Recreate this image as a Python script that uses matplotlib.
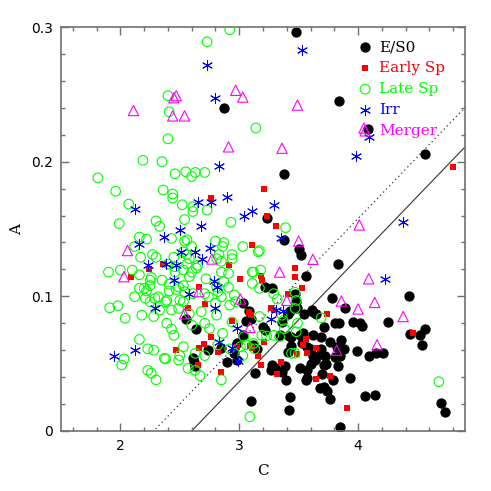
import matplotlib
matplotlib.use("Agg")
import matplotlib.pyplot as plt
from matplotlib.ticker import MultipleLocator

# E/S0 (black filled circles)
es0_c = [3.48, 2.87, 3.84, 4.08, 4.56, 3.38, 3.23, 3.38, 3.50, 3.52,
         3.83, 3.56, 3.22, 3.28, 3.47, 3.48, 3.78, 3.89, 4.43,
         3.03, 3.08, 3.10, 3.06, 2.55, 2.64,
         3.41, 3.43, 3.49, 3.36, 3.20, 3.22,
         3.545, 3.61, 3.65, 3.62, 3.71, 3.81, 3.84, 3.96, 4.02, 4.03, 4.255,
         4.56, 4.52, 4.54, 4.44,
         3.51, 3.54, 3.62, 3.69, 3.76, 3.86, 3.42, 3.44, 3.34,
         3.03, 2.98, 3.12, 3.15, 2.74, 2.85, 2.96,
         3.53, 3.44, 3.41, 3.57, 3.60, 3.69, 3.82, 3.88, 3.99, 4.09, 4.15, 4.21,
         3.72, 3.65, 3.64, 3.62, 3.81, 3.85,
         2.61, 2.62, 2.63, 2.90,
         3.28, 3.30, 3.27, 3.36, 3.51, 3.57, 3.60, 3.71, 3.73, 3.83,
         3.13, 3.385, 3.39, 3.56, 3.57, 3.79, 3.93, 3.70,
         3.71, 3.74, 3.68, 3.76, 4.06, 4.14,
         3.10, 3.43, 3.42, 3.85, 4.70, 4.73, 2.98]
es0_a = [0.296, 0.240, 0.245, 0.224, 0.206, 0.191, 0.158, 0.142, 0.135, 0.131,
         0.124, 0.115, 0.107, 0.106, 0.102, 0.096, 0.099, 0.091, 0.100,
         0.095, 0.089, 0.083, 0.082, 0.083, 0.0755,
         0.087, 0.089, 0.091, 0.081, 0.077, 0.075,
         0.087, 0.090, 0.087, 0.088, 0.077, 0.080, 0.080, 0.081, 0.080, 0.078, 0.081,
         0.076, 0.071, 0.064, 0.072,
         0.071, 0.0725, 0.071, 0.070, 0.066, 0.0676, 0.0705, 0.070, 0.071,
         0.071, 0.065, 0.064, 0.061, 0.060, 0.062, 0.058,
         0.065, 0.063, 0.059, 0.0626, 0.061, 0.061, 0.0626, 0.061, 0.0596, 0.056, 0.058, 0.0577,
         0.056, 0.055, 0.0527, 0.056, 0.055, 0.056,
         0.054, 0.051, 0.048, 0.051,
         0.049, 0.047, 0.045, 0.044, 0.0465, 0.045, 0.050, 0.049, 0.050, 0.048,
         0.043, 0.048, 0.038, 0.038, 0.039, 0.038, 0.039, 0.042,
         0.033, 0.030, 0.032, 0.024, 0.026, 0.027,
         0.022, 0.0255, 0.0156, 0.003, 0.021, 0.014, 0.053]

# Early Sp (red filled squares)
early_c = [4.80, 3.21, 3.23, 3.31, 3.11, 2.76, 2.24, 2.36, 2.09, 2.47,
           2.57, 2.66, 2.71, 2.91, 3.01, 2.94, 2.76, 2.70, 2.66, 2.82,
           2.98, 2.65, 2.85, 3.08, 3.09, 3.18, 3.19, 3.47, 3.53, 3.47,
           3.41, 3.10, 3.29, 3.16, 3.21, 3.35, 3.27, 3.74, 3.56, 3.54,
           3.57, 3.65, 3.49, 3.32, 3.65, 3.76, 3.91, 4.46, 3.18, 3.11]
early_a = [0.196, 0.180, 0.160, 0.152, 0.138, 0.173, 0.120, 0.124, 0.114, 0.060,
           0.091, 0.107, 0.094, 0.123, 0.1126, 0.082, 0.0696, 0.0646, 0.0614, 0.0589,
           0.0626, 0.049, 0.0436, 0.0886, 0.063, 0.115, 0.112, 0.1146, 0.1064, 0.121,
           0.102, 0.086, 0.0898, 0.056, 0.066, 0.051, 0.091, 0.0868, 0.068, 0.064,
           0.0577, 0.062, 0.057, 0.042, 0.0386, 0.041, 0.0168, 0.073, 0.049, 0.062]

# Late Sp (green open circles)
late_c = [2.92, 2.73, 2.40, 2.41, 2.40, 2.19, 2.35, 1.81, 2.46, 2.55,
          2.60, 2.63, 2.71, 2.36, 2.44, 2.44, 1.96, 2.07, 2.52, 2.61,
          2.61, 2.73, 2.54, 2.30, 2.33, 1.99, 2.93, 2.16, 2.22, 2.43,
          2.54, 2.80, 2.87, 2.12, 3.14, 3.39, 2.56, 2.86, 3.03, 3.17, 2.94,
          2.17, 2.27, 2.30, 2.45, 2.53, 2.56, 2.60, 2.83, 2.85, 2.56,
          2.53, 2.46, 2.40, 2.46, 2.60, 2.65, 2.85, 2.91, 2.87, 2.82,
          2.91, 2.74, 2.35, 2.25, 2.47, 2.53, 2.29, 2.39, 2.50, 2.80, 2.92,
          2.58, 2.81, 2.94, 2.64, 2.58, 2.72, 2.81, 3.11, 2.61, 2.71,
          2.85, 2.96, 2.97, 3.16, 3.12, 3.18, 3.17, 3.11, 3.29, 3.32, 3.47, 3.48,
          1.90, 2.00, 2.10, 2.16, 2.26, 2.25, 2.20, 2.16, 2.22, 2.12,
          2.21, 2.25, 2.32, 2.38, 2.41, 2.41, 2.49, 2.54, 2.53, 2.49,
          2.43, 1.91, 1.98, 2.04, 2.18, 2.28, 2.33, 2.39, 2.43, 2.45,
          2.16, 2.23, 2.28, 2.38, 2.50, 2.53, 2.03, 2.01, 2.23, 2.26,
          2.57, 2.49, 2.30, 2.37, 2.67, 2.85, 3.09,
          2.58, 2.68, 2.81, 2.94, 2.60, 2.71, 2.75, 2.86, 3.04, 3.19,
          3.34, 3.38, 3.48, 3.47, 3.36, 2.82, 2.92, 3.01, 3.06, 3.13,
          3.44, 2.63, 2.71, 2.63, 3.69, 3.37, 3.49, 3.17, 3.29, 3.12,
          3.47, 4.68, 3.23, 3.03]
late_a = [0.298, 0.289, 0.249, 0.237, 0.217, 0.201, 0.200, 0.188, 0.191, 0.1925,
          0.189, 0.192, 0.192, 0.179, 0.176, 0.173, 0.178, 0.1685, 0.168, 0.1665,
          0.163, 0.164, 0.157, 0.156, 0.152, 0.154, 0.155, 0.144, 0.1425, 0.143,
          0.141, 0.141, 0.140, 0.137, 0.225, 0.151, 0.142, 0.137, 0.137, 0.134, 0.131,
          0.129, 0.131, 0.129, 0.129, 0.133, 0.131, 0.137, 0.131, 0.126, 0.124,
          0.1195, 0.122, 0.124, 0.118, 0.118, 0.123, 0.118, 0.117, 0.111, 0.1035,
          0.1067, 0.0997, 0.112, 0.112, 0.105, 0.108, 0.0985, 0.097, 0.097, 0.095, 0.0935,
          0.128, 0.128, 0.128, 0.121, 0.1146, 0.113, 0.107, 0.118, 0.102, 0.102,
          0.0997, 0.101, 0.096, 0.133, 0.118, 0.1195, 0.106, 0.1096, 0.102, 0.098, 0.103, 0.097,
          0.118, 0.1195, 0.1195, 0.116, 0.114, 0.108, 0.106, 0.106, 0.104, 0.0997,
          0.0985, 0.096, 0.0997, 0.096, 0.104, 0.109, 0.107, 0.1035, 0.096, 0.091,
          0.0898, 0.0915, 0.093, 0.0837, 0.086, 0.085, 0.0898, 0.080, 0.0757, 0.071,
          0.068, 0.061, 0.060, 0.0535, 0.056, 0.0626, 0.0535, 0.049, 0.045, 0.043,
          0.0465, 0.0527, 0.038, 0.054, 0.041, 0.038, 0.0106,
          0.087, 0.0886, 0.086, 0.081, 0.0787, 0.080, 0.076, 0.0725, 0.070, 0.071,
          0.070, 0.076, 0.0737, 0.091, 0.086, 0.064, 0.061, 0.0626, 0.064, 0.061,
          0.0577, 0.0577, 0.056, 0.045, 0.084, 0.082, 0.080, 0.085, 0.071, 0.065,
          0.0577, 0.0366, 0.0705, 0.056]

# Irr (blue asterisks)
irr_c = [2.73, 2.80, 2.83, 2.90, 2.65, 2.76, 2.12, 3.04, 2.68, 2.50,
         2.37, 2.16, 3.53, 4.09, 3.98, 3.11, 3.29, 4.38, 3.35, 2.75,
         2.63, 2.51, 2.69, 2.23, 2.38, 2.47, 2.45, 2.79, 2.81, 2.58,
         2.29, 2.80, 2.12, 1.95, 2.98, 2.83, 2.94, 2.99, 3.27, 3.37,
         3.31, 4.23]
irr_a = [0.272, 0.247, 0.197, 0.174, 0.170, 0.170, 0.165, 0.160, 0.152, 0.149,
         0.144, 0.139, 0.283, 0.218, 0.204, 0.163, 0.168, 0.155, 0.143, 0.1356,
         0.133, 0.133, 0.128, 0.123, 0.124, 0.123, 0.112, 0.1115, 0.107, 0.1015,
         0.091, 0.091, 0.060, 0.056, 0.0767, 0.066, 0.062, 0.052, 0.083, 0.089,
         0.0898, 0.1126]

# Merger (magenta open triangles)
merger_c = [2.47, 2.45, 2.11, 2.44, 2.54, 2.97, 3.03, 2.91, 3.49, 4.05,
            3.36, 4.01, 3.50, 3.62, 3.34, 4.09, 3.86, 4.14, 4.00, 4.38,
            4.16, 3.82, 3.40, 3.09, 2.06, 2.03, 2.77, 2.66, 3.01, 2.54]
merger_a = [0.249, 0.2475, 0.238, 0.234, 0.234, 0.253, 0.248, 0.211, 0.242, 0.225,
            0.210, 0.153, 0.141, 0.1275, 0.118, 0.113, 0.0965, 0.0955, 0.0906, 0.085,
            0.064, 0.060, 0.097, 0.077, 0.134, 0.1146, 0.1277, 0.1035, 0.098, 0.087]

# dividing lines A = slope * (C - c0)
line_slope = 0.0917
solid_c0 = 2.60
dotted_c0 = 2.28
c_range = [1.5, 4.9]

fig = plt.figure(figsize=(4.91, 4.91), dpi=100)
ax = fig.add_axes([0.1242, 0.1222, 0.8228, 0.8228])

asterisk = (6, 2, 0)
ax.scatter(es0_c, es0_a, s=55, c="black", marker="o", linewidths=0, label="E/S0", zorder=2)
ax.scatter(early_c, early_a, s=24, c="red", marker="s", linewidths=0, label="Early Sp", zorder=3)
ax.scatter(late_c, late_a, s=48, facecolors="none", edgecolors="#00ff00", marker="o",
           linewidths=0.8, label="Late Sp", zorder=4)
ax.scatter(irr_c, irr_a, s=55, c="blue", marker=asterisk, linewidths=0.7, label="Irr", zorder=5)
ax.scatter(merger_c, merger_a, s=55, facecolors="none", edgecolors="magenta", marker="^",
           linewidths=0.8, label="Merger", zorder=6)

ax.plot(c_range, [line_slope * (c - solid_c0) for c in c_range], color="#333333", lw=0.8, zorder=1)
ax.plot(c_range, [line_slope * (c - dotted_c0) for c in c_range], color="#333333", lw=0.9,
        linestyle=(0, (1, 2.5)), zorder=1)

ax.set_xlim(1.5, 4.9)
ax.set_ylim(0, 0.3)
ax.xaxis.set_major_locator(MultipleLocator(1))
ax.xaxis.set_minor_locator(MultipleLocator(0.2))
ax.yaxis.set_major_locator(MultipleLocator(0.1))
ax.yaxis.set_minor_locator(MultipleLocator(0.02))
ax.set_yticks([0, 0.1, 0.2, 0.3])
ax.set_yticklabels(["0", "0.1", "0.2", "0.3"])

frame_col = "#707070"
for sp in ax.spines.values():
    sp.set_color(frame_col)
    sp.set_linewidth(1.2)
ax.tick_params(which="both", direction="in", top=True, right=True, color=frame_col, width=1.0)
ax.tick_params(which="major", length=6, pad=6, labelsize=10)
ax.tick_params(which="minor", length=3)
for lab in ax.get_xticklabels() + ax.get_yticklabels():
    lab.set_family("DejaVu Sans")

ax.set_xlabel("C", family="DejaVu Serif", fontsize=11, labelpad=8)
ax.set_ylabel("A", family="DejaVu Serif", fontsize=11, labelpad=5)

leg = ax.legend(loc="upper left", bbox_to_anchor=(0.715, 0.982), frameon=False,
                prop={"family": "DejaVu Serif", "size": 11}, handletextpad=0.3,
                labelspacing=0.45, borderaxespad=0, handlelength=1.2,
                labelcolor=["black", "red", "#00ff00", "blue", "magenta"])

plt.savefig("out.png", dpi=100)
